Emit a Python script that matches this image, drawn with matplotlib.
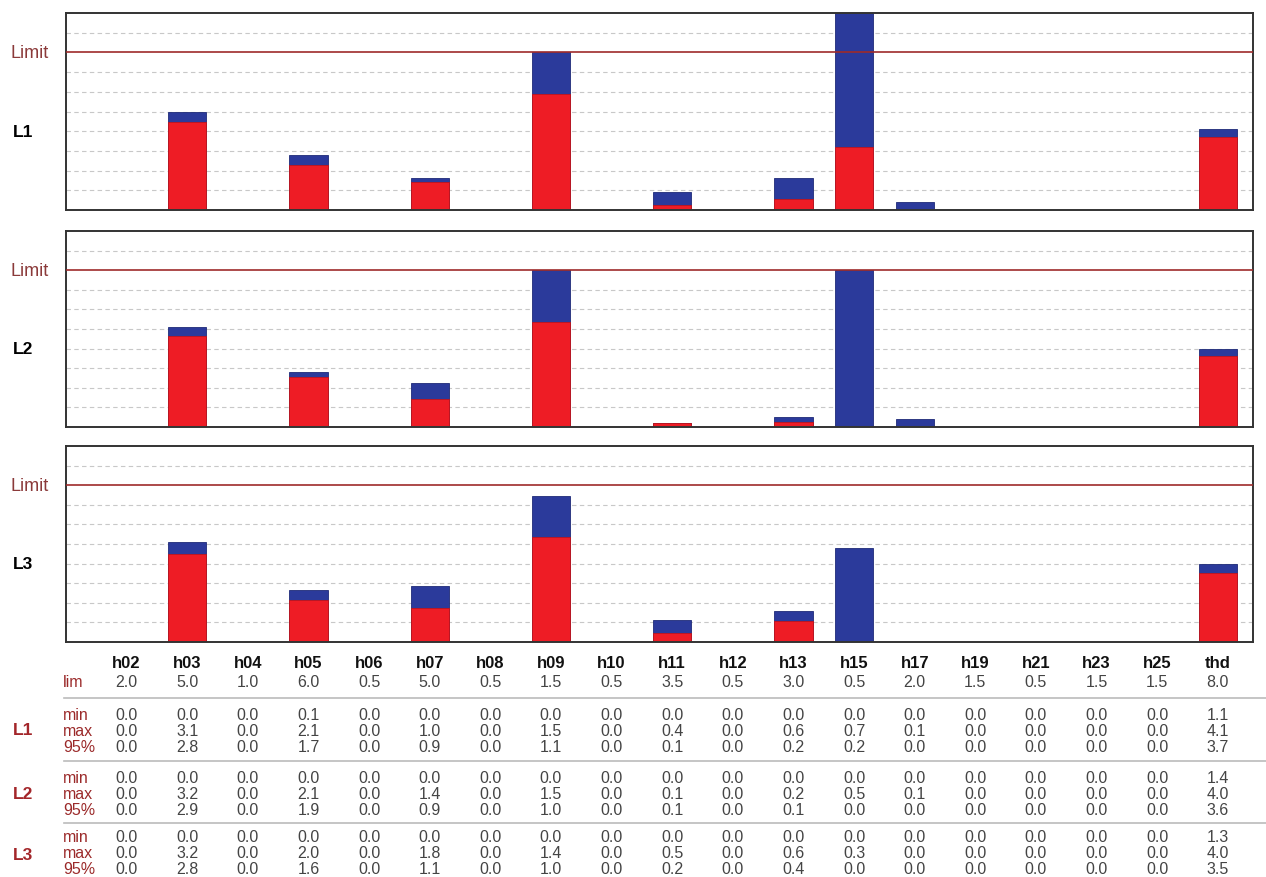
import numpy as np
import matplotlib
matplotlib.use('Agg')
import matplotlib.pyplot as plt
from matplotlib import transforms

# harmonic table values
harm = ['h02', 'h03', 'h04', 'h05', 'h06', 'h07', 'h08', 'h09', 'h10', 'h11',
        'h12', 'h13', 'h15', 'h17', 'h19', 'h21', 'h23', 'h25', 'thd']
lim = [2.0, 5.0, 1.0, 6.0, 0.5, 5.0, 0.5, 1.5, 0.5, 3.5, 0.5, 3.0, 0.5, 2.0, 1.5, 0.5, 1.5, 1.5, 8.0]

L1_min = [0.0, 0.0, 0.0, 0.1, 0.0, 0.0, 0.0, 0.0, 0.0, 0.0, 0.0, 0.0, 0.0, 0.0, 0.0, 0.0, 0.0, 0.0, 1.1]
L1_max = [0.0, 3.1, 0.0, 2.1, 0.0, 1.0, 0.0, 1.5, 0.0, 0.4, 0.0, 0.6, 0.7, 0.1, 0.0, 0.0, 0.0, 0.0, 4.1]
L1_95 = [0.0, 2.8, 0.0, 1.7, 0.0, 0.9, 0.0, 1.1, 0.0, 0.1, 0.0, 0.2, 0.2, 0.0, 0.0, 0.0, 0.0, 0.0, 3.7]

L2_min = [0.0, 0.0, 0.0, 0.0, 0.0, 0.0, 0.0, 0.0, 0.0, 0.0, 0.0, 0.0, 0.0, 0.0, 0.0, 0.0, 0.0, 0.0, 1.4]
L2_max = [0.0, 3.2, 0.0, 2.1, 0.0, 1.4, 0.0, 1.5, 0.0, 0.1, 0.0, 0.2, 0.5, 0.1, 0.0, 0.0, 0.0, 0.0, 4.0]
L2_95 = [0.0, 2.9, 0.0, 1.9, 0.0, 0.9, 0.0, 1.0, 0.0, 0.1, 0.0, 0.1, 0.0, 0.0, 0.0, 0.0, 0.0, 0.0, 3.6]

L3_min = [0.0, 0.0, 0.0, 0.0, 0.0, 0.0, 0.0, 0.0, 0.0, 0.0, 0.0, 0.0, 0.0, 0.0, 0.0, 0.0, 0.0, 0.0, 1.3]
L3_max = [0.0, 3.2, 0.0, 2.0, 0.0, 1.8, 0.0, 1.4, 0.0, 0.5, 0.0, 0.6, 0.3, 0.0, 0.0, 0.0, 0.0, 0.0, 4.0]
L3_95 = [0.0, 2.8, 0.0, 1.6, 0.0, 1.1, 0.0, 1.0, 0.0, 0.2, 0.0, 0.4, 0.0, 0.0, 0.0, 0.0, 0.0, 0.0, 3.5]

phases = ['L1', 'L2', 'L3']
mins = [L1_min, L2_min, L3_min]
maxs = [L1_max, L2_max, L3_max]
p95s = [L1_95, L2_95, L3_95]

RED = '#ee1c25'
BLUE = '#2b3a9b'
DARKRED = '#9b2a2a'
W, H = 1266, 878

plt.rcParams['font.family'] = ['Liberation Sans', 'DejaVu Sans']
fig = plt.figure(figsize=(W / 100, H / 100), dpi=100)
fig.patch.set_facecolor('white')

x = np.arange(len(harm))
limarr = np.array(lim)
ymax = 125.0

# panel positions in pixels (top, bottom)
panels = [(14, 211), (232, 428), (447, 643)]
left_px, right_px = 66, 1253

axes = []
for i, (top, bot) in enumerate(panels):
    ax = fig.add_axes([left_px / W, 1 - bot / H, (right_px - left_px) / W, (bot - top) / H])
    pmax = np.minimum(np.array(maxs[i]) / limarr * 100, ymax)
    p95 = np.minimum(np.array(p95s[i]) / limarr * 100, ymax)
    for g in np.arange(12.5, ymax, 12.5):
        if g != 100:
            ax.axhline(g, color='#c8c8c8', lw=0.8, ls=(0, (4, 3)), zorder=0)
    ax.axhline(100, color='#9e2b2b', lw=1.2, zorder=3)
    ax.bar(x, pmax, width=0.63, color=BLUE, edgecolor='#1e2a78', lw=0.6, zorder=1)
    ax.bar(x, p95, width=0.63, color=RED, edgecolor='#c0141b', lw=0.6, zorder=2)
    ax.set_xlim(-1.0, 18.58)
    ax.set_ylim(0, ymax)
    ax.set_xticks([])
    ax.set_yticks([])
    for s in ax.spines.values():
        s.set_color('#333333')
        s.set_linewidth(1.4)
    fig.text(11 / W, 1 - (bot - (bot - top) * 100 / ymax) / H, 'Limit', ha='left',
             va='center', color='#8b3a3a', fontsize=13)
    fig.text(13 / W, 1 - (bot - (bot - top) * 50 / ymax) / H, phases[i], ha='left',
             va='center', color='black', fontsize=12.5, fontweight='bold')
    axes.append(ax)

# table below the charts
trans = transforms.blended_transform_factory(axes[0].transData, fig.transFigure)

def fy(px):
    return 1 - px / H

for j, h in enumerate(harm):
    fig.text(j, fy(668), h, transform=trans, ha='center', va='baseline',
             fontsize=12, fontweight='bold', color='#111111')
    fig.text(j, fy(687), '%.1f' % lim[j], transform=trans, ha='center', va='baseline',
             fontsize=11.5, color='#444444')
fig.text(63 / W, fy(687), 'lim', ha='left', va='baseline', fontsize=11.5, color=DARKRED)

# baselines of the min / max / 95% rows for each phase
row_base = [(720, 736, 752), (783, 799, 815), (842, 858, 874)]
lab_y = [731, 795, 856]
sep_y = [699, 762, 824]
for i in range(3):
    fig.add_artist(plt.Line2D([64 / W, 1.0], [fy(sep_y[i])] * 2, color='#bbbbbb', lw=1.2))
    fig.text(13 / W, fy(lab_y[i]), phases[i], ha='left', va='center',
             fontsize=12.5, fontweight='bold', color='#a3262a')
    for lab, vals, yb in zip(['min', 'max', '95%'], [mins[i], maxs[i], p95s[i]], row_base[i]):
        fig.text(63 / W, fy(yb), lab, ha='left', va='baseline', fontsize=11.5, color=DARKRED)
        for j in range(len(harm)):
            fig.text(j, fy(yb), '%.1f' % vals[j], transform=trans, ha='center',
                     va='baseline', fontsize=11.5, color='#444444')

fig.savefig('out.png', dpi=100, facecolor='white')
